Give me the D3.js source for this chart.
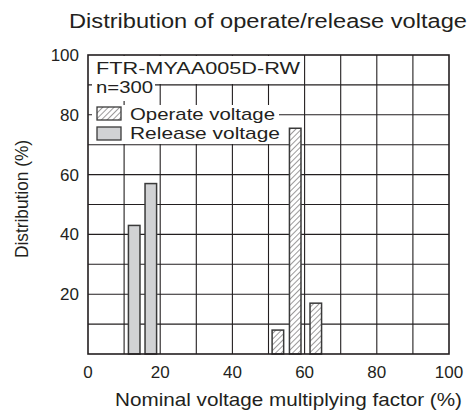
<!doctype html>
<html>
<head>
<meta charset="utf-8"/>
<style>
    html, body { margin: 0; padding: 0; background: #fff; }
    svg text { font-family: "Liberation Sans", Arial, sans-serif; fill: #231f20; }
</style>
<script src="https://d3js.org/d3.v7.min.js"></script>
</head>
<body>
<svg width="469" height="411"></svg>
<script>
    // bin centres (% of nominal voltage) and distribution (%)
    var releaseX = [12.8, 17.4];
    var releaseY = [43, 57];
    var operateX = [52.6, 57.4, 63.1];
    var operateY = [8, 75.5, 17];
    var binWidth = 3.2;
    var xTicks = [0, 20, 40, 60, 80, 100];
    var yTicks = [20, 40, 60, 80, 100];

    var svg = d3.select("svg");
    var x = d3.scaleLinear().domain([0, 100]).range([88, 449]);
    var y = d3.scaleLinear().domain([0, 100]).range([354, 55]);
    var ink = "#231f20";

    // text helper: stretch to the width seen in the picture
    function label(px, py, str, size, len, anchor) {
        var t = svg.append("text")
            .attr("x", px).attr("y", py)
            .attr("text-anchor", anchor || "start")
            .style("font-size", size + "px")
            .text(str);
        if (len) t.attr("textLength", len).attr("lengthAdjust", "spacingAndGlyphs");
        return t;
    }

    // hatch pattern for operate voltage
    var pat = svg.append("defs").append("pattern")
        .attr("id", "hatch")
        .attr("patternUnits", "userSpaceOnUse")
        .attr("width", 4).attr("height", 4)
        .attr("patternTransform", "rotate(45)");
    pat.append("rect").attr("width", 4).attr("height", 4).attr("fill", "#fff");
    pat.append("line").attr("x1", 0).attr("y1", 0).attr("x2", 0).attr("y2", 4)
        .attr("stroke", ink).attr("stroke-width", 0.9);

    label(268, 28, "Distribution of operate/release voltage", 20, 398, "middle");

    // grid
    var grid = svg.append("g").attr("stroke", ink).attr("stroke-width", 1.1);
    grid.selectAll(".v").data(d3.range(10, 100, 10)).enter().append("line")
        .attr("x1", d => x(d)).attr("x2", d => x(d))
        .attr("y1", y(0)).attr("y2", y(100));
    grid.selectAll(".h").data(d3.range(10, 100, 10)).enter().append("line")
        .attr("x1", x(0)).attr("x2", x(100))
        .attr("y1", d => y(d)).attr("y2", d => y(d));

    // legend backgrounds hide the grid
    var bg = svg.append("g").attr("fill", "#fff");
    bg.append("rect").attr("x", 92).attr("y", 56).attr("width", 211).attr("height", 28);
    bg.append("rect").attr("x", 92).attr("y", 84).attr("width", 63).attr("height", 17);
    bg.append("rect").attr("x", 92).attr("y", 105).attr("width", 187).attr("height", 19);
    bg.append("rect").attr("x", 92).attr("y", 124).attr("width", 192).attr("height", 20);

    // bars
    svg.append("g").selectAll("rect").data(releaseX).enter().append("rect")
        .attr("x", (d) => x(d - binWidth / 2))
        .attr("width", (d) => x(binWidth) - x(0))
        .attr("y", (d, i) => y(releaseY[i]))
        .attr("height", (d, i) => y(0) - y(releaseY[i]))
        .attr("fill", "#d1d2d4").attr("stroke", "#3a3a3a").attr("stroke-width", 1.5);
    svg.append("g").selectAll("rect").data(operateX).enter().append("rect")
        .attr("x", (d) => x(d - binWidth / 2))
        .attr("width", (d) => x(binWidth) - x(0))
        .attr("y", (d, i) => y(operateY[i]))
        .attr("height", (d, i) => y(0) - y(operateY[i]))
        .attr("fill", "url(#hatch)").attr("stroke", "#3a3a3a").attr("stroke-width", 1.5);

    // frame
    svg.append("rect").attr("x", x(0)).attr("y", y(100))
        .attr("width", x(100) - x(0)).attr("height", y(0) - y(100))
        .attr("fill", "none").attr("stroke", ink).attr("stroke-width", 1.6);

    // tick labels
    svg.append("g").selectAll("text").data(xTicks).enter().append("text")
        .attr("x", d => x(d)).attr("y", 378)
        .attr("text-anchor", "middle").style("font-size", "17px")
        .text(d => d);
    svg.append("g").selectAll("text").data(yTicks).enter().append("text")
        .attr("x", 79).attr("y", d => y(d) + 6)
        .attr("text-anchor", "end").style("font-size", "17px")
        .text(d => d);

    label(288.5, 406, "Nominal voltage multiplying factor (%)", 18.5, 347, "middle");
    label(0, 0, "Distribution (%)", 18, 118, "middle")
        .attr("transform", "translate(28,199) rotate(-90)");

    // legend
    label(96, 74, "FTR-MYAA005D-RW", 16.5, 204);
    label(96, 93, "n=300", 16.5, 57);
    svg.append("rect").attr("x", 97).attr("y", 107).attr("width", 24).attr("height", 13)
        .attr("fill", "url(#hatch)").attr("stroke", "#3a3a3a").attr("stroke-width", 1.3);
    svg.append("rect").attr("x", 97).attr("y", 127).attr("width", 24).attr("height", 13)
        .attr("fill", "#d1d2d4").attr("stroke", "#3a3a3a").attr("stroke-width", 1.3);
    label(130, 120, "Operate voltage", 17, 145);
    label(130, 139, "Release voltage", 17, 150);
</script>
</body>
</html>
